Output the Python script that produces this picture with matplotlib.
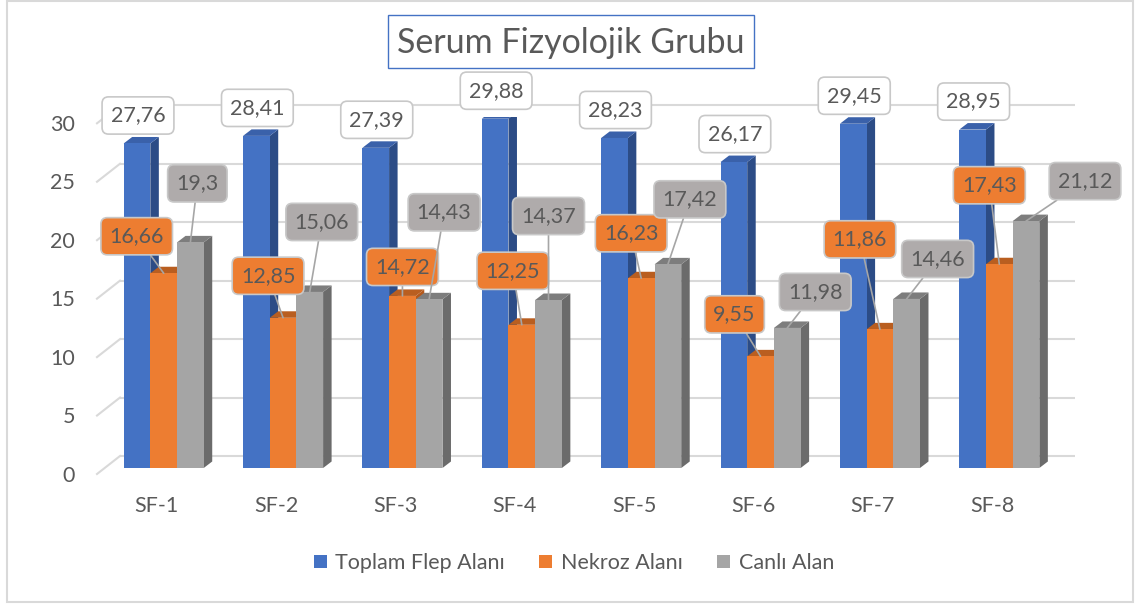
import numpy as np
import matplotlib
matplotlib.use("Agg")
import matplotlib.pyplot as plt
from matplotlib.patches import Polygon, Rectangle, Patch

plt.rcParams['font.family'] = ['Lato', 'DejaVu Sans']

categories = ['SF-1', 'SF-2', 'SF-3', 'SF-4', 'SF-5', 'SF-6', 'SF-7', 'SF-8']
toplam = [27.76, 28.41, 27.39, 29.88, 28.23, 26.17, 29.45, 28.95]
nekroz = [16.66, 12.85, 14.72, 12.25, 16.23, 9.55, 11.86, 17.43]
canli = [19.3, 15.06, 14.43, 14.37, 17.42, 11.98, 14.46, 21.12]
series_names = ['Toplam Flep Alanı', 'Nekroz Alanı', 'Canlı Alan']
yticks = [0, 5, 10, 15, 20, 25, 30]
title = 'Serum Fizyolojik Grubu'

# where the data labels sit, in pixels from the top of each bar
toplam_lbl = [(1, 28)] * 8
nekroz_lbl = [(-27, 37), (-15, 42), (0, 29), (-9, 54), (-10, 45), (-26, 42), (-20, 90), (-10, 79)]
canli_lbl = [(7, 59), (12, 70), (15, 87), (0, 84), (22, 65), (28, 36), (31, 40), (59, 40)]

TEXT = '#595959'
GRID = '#D9D9D9'
W, H = 1136, 606

fig = plt.figure(figsize=(W / 100, H / 100), dpi=100)
ax = fig.add_axes([104 / W, (H - 468) / H, 955 / W, 350.7 / H])
ax.set_xlim(-0.5, 7.5)
ax.set_ylim(0, 30)
ax.axis('off')

# data units per screen pixel, used for the fake 3d depth
x0, y0 = ax.transData.transform((0, 0))
x1, y1 = ax.transData.transform((1, 1))
ux, uy = 1 / (x1 - x0), 1 / (y1 - y0)

# back wall gridlines + the little floor diagonals on the left
for v in yticks:
    ax.plot([-0.5 + 16 * ux, 7.5 + 16 * ux], [v + 12 * uy] * 2, color=GRID, lw=1.5,
            zorder=0, clip_on=False, solid_capstyle='butt')
    ax.plot([-0.5 - 7 * ux, -0.5 + 16 * ux], [v - 6 * uy, v + 12 * uy], color=GRID,
            lw=1.5, zorder=0, clip_on=False)

bw = 0.2236
ddx, ddy = 8.5 * ux, 6.5 * uy
series = [
    (toplam, '#4472C4', '#2C4C86', '#3A61AA', toplam_lbl, 'white'),
    (nekroz, '#ED7D31', '#B4591C', '#B95E20', nekroz_lbl, '#ED7D31'),
    (canli, '#A5A5A5', '#6B6B6B', '#7D7D7D', canli_lbl, '#AFABAB'),
]
xpos = np.arange(len(categories))

for k, (vals, front, side, top, lbl, boxc) in enumerate(series):
    xs = xpos + (k - 1) * bw
    z = 2 + k
    ax.bar(xs, vals, width=bw, color=front, lw=0, zorder=z + 0.5, clip_on=False)
    for x, v, (dx, dy) in zip(xs, vals, lbl):
        l, r = x - bw / 2, x + bw / 2
        ax.add_patch(Polygon([(r, 0), (r + ddx, ddy), (r + ddx, v + ddy), (r, v)],
                             closed=True, fc=side, ec='none', zorder=z))
        ax.add_patch(Polygon([(l, v), (r, v), (r + ddx, v + ddy), (l + ddx, v + ddy)],
                             closed=True, fc=top, ec='none', zorder=z))
        arrow = None
        if k > 0:
            arrow = dict(arrowstyle='-', color='#A6A6A6', lw=1.2, shrinkA=0, shrinkB=0)
        ax.annotate(f"{v:g}".replace('.', ','), xy=(x, v), xytext=(dx, dy),
                    textcoords='offset pixels', ha='center', va='center',
                    fontsize=15.5, color=TEXT, zorder=10, arrowprops=arrow,
                    bbox=dict(boxstyle='round,pad=0.4,rounding_size=0.3',
                              fc=boxc, ec='#C8C8C8', lw=1.2))

# axis labels on the front edge of the floor
for v in yticks:
    ax.annotate(str(v), xy=(-0.5, v), xytext=(-29, -7.5), textcoords='offset pixels',
                ha='right', va='center', fontsize=15.5, color=TEXT)
for i, c in enumerate(categories):
    ax.annotate(c, xy=(i, 0), xytext=(-7, -38), textcoords='offset pixels',
                ha='center', va='center', fontsize=15.5, color=TEXT)

# title in its own blue box
fig.patches.append(Rectangle((388 / W, (H - 68) / H), 366 / W, 53 / H, transform=fig.transFigure,
                             fc='white', ec='#4472C4', lw=1))
fig.text(571 / W, 1 - 43 / H, title, ha='center', va='center', fontsize=24.5, color=TEXT)

# chart border
fig.patches.append(Rectangle((7 / W, (H - 602) / H), 1126 / W, 601 / H, transform=fig.transFigure,
                             fc='none', ec=GRID, lw=1.5))

handles = [Patch(fc=s[1]) for s in series]
fig.legend(handles, series_names, loc='center', bbox_to_anchor=(574 / W, 1 - 563 / H), ncol=3,
           frameon=False, fontsize=15.5, handlelength=0.6, handleheight=0.6,
           handletextpad=0.4, columnspacing=1.6, labelcolor=TEXT)

fig.savefig('out.png', dpi=100)
